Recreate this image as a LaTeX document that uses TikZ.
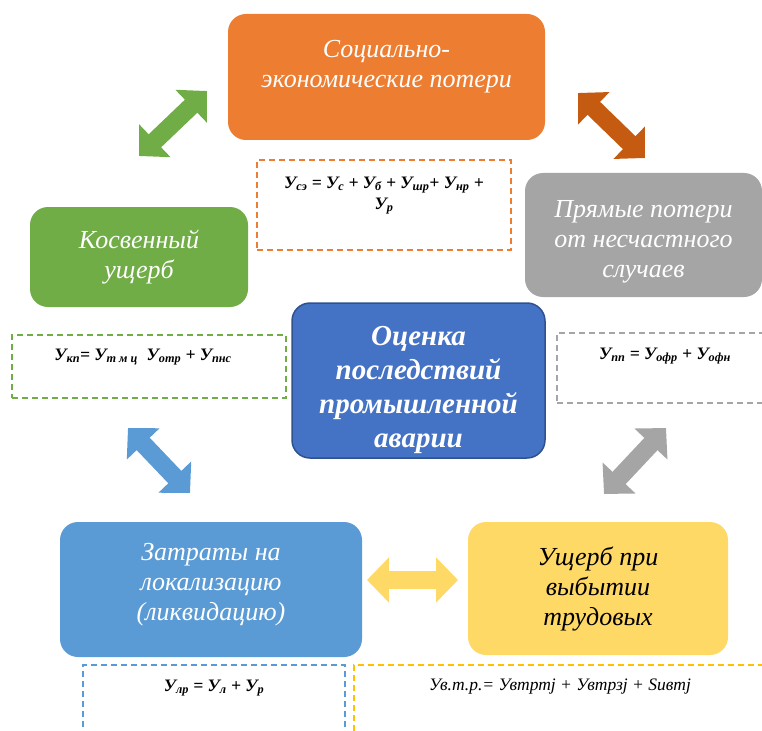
\documentclass[tikz,border=0pt]{standalone}
\usepackage{fontspec}
\setmainfont{Liberation Serif}
\usetikzlibrary{arrows.meta,positioning}

\definecolor{orng}{HTML}{ED7D31}
\definecolor{orngdk}{HTML}{C55A11}
\definecolor{gry}{HTML}{A5A5A5}
\definecolor{grn}{HTML}{70AD47}
\definecolor{blu}{HTML}{4472C4}
\definecolor{bludk}{HTML}{2F528F}
\definecolor{ltblu}{HTML}{5B9BD5}
\definecolor{ylw}{HTML}{FFD966}
\definecolor{ylwdk}{HTML}{FFC000}

\tikzset{
  box/.style={rounded corners=18pt, inner sep=4pt, align=center, text=white,
    font=\fontsize{26}{30}\selectfont\itshape},
  formbox/.style={draw, line width=1.3pt, dash pattern=on 6pt off 4pt},
  formula/.style={align=center, inner sep=0pt, font=\fontsize{17.5}{21}\selectfont\bfseries\itshape},
  bigarrow/.style={line width=18pt, {Triangle[width=44pt,length=22pt]}-{Triangle[width=44pt,length=22pt]}},
}

\begin{document}
\begin{tikzpicture}[x=1pt,y=-1pt]
\useasboundingbox (0,0) rectangle (762,730);

% boxes
\node[box, fill=orng, minimum width=317pt, minimum height=126pt] (soc) at (386.5,77) {Социально-\\экономические потери\\[-12pt]\strut};
\node[box, fill=gry, minimum width=237pt, minimum height=124pt] (prm) at (643.5,235) {\rule{0pt}{31pt}Прямые потери\\от несчастного\\случаев};
\node[box, fill=grn, minimum width=218pt, minimum height=100pt] (kos) at (139,257) {Косвенный\\ущерб};
\node[box, fill=blu, draw=bludk, line width=1.5pt, minimum width=253pt, minimum height=155pt,
  font=\fontsize{29}{34}\selectfont\bfseries\itshape] (ocn) at (418.5,380.5) {\rule{0pt}{38pt}Оценка\\последствий\\промышленной\\аварии};
\node[box, fill=ltblu, minimum width=302pt, minimum height=135pt] (zat) at (211,589.5) {Затраты на\\локализацию\\(ликвидацию)\\[-24pt]\strut};
\node[box, fill=ylw, text=black, minimum width=260pt, minimum height=133pt] (ush) at (598,588.5) {Ущерб при\\выбытии\\трудовых};

% dashed boxes with formulas
\node[formbox, draw=orng, minimum width=254pt, minimum height=90pt] (fSoc) at (384,205) {};
\node[formula, below=17pt of fSoc.north] {У\textsubscript{сэ} = У\textsubscript{с} + У\textsubscript{б} + У\textsubscript{шр}+ У\textsubscript{нр} +\\У\textsubscript{р}};

\node[formbox, draw=grn, minimum width=274pt, minimum height=63pt] (fKos) at (149,366.5) {};
\node[formula, below=14pt of fKos.north, xshift=-6pt] {У\textsubscript{кп}= У\textsubscript{т м ц}\enspace У\textsubscript{отр} + У\textsubscript{пнс}};

\node[formbox, draw=gry, minimum width=214pt, minimum height=70pt] (fPrm) at (664,368) {};
\node[formula, below=15pt of fPrm.north, xshift=1pt] {У\textsubscript{пп} = У\textsubscript{офр} + У\textsubscript{офн}};

\node[formbox, draw=ltblu, minimum width=262pt, minimum height=80pt] (fZat) at (214,705) {};
\node[formula, below=15pt of fZat.north] {У\textsubscript{лр} = У\textsubscript{л} + У\textsubscript{р}};

\node[formbox, draw=ylwdk, minimum width=420pt, minimum height=80pt] (fUsh) at (564,705) {};
\node[formula, below=14pt of fUsh.north, xshift=-4pt, font=\fontsize{17.5}{21}\selectfont\itshape] {Ув.т.р.= Увтртj + Увтрзj + Sивтj};

% arrows
\coordinate (g1) at (139,156); \coordinate (g2) at (207,91);
\coordinate (o1) at (578,93);  \coordinate (o2) at (645,158);
\coordinate (b1) at (128,428); \coordinate (b2) at (190,493);
\coordinate (s1) at (604,494); \coordinate (s2) at (666,428);
\coordinate (y1) at (367,580); \coordinate (y2) at (458,580);
\draw[bigarrow, grn] (g1) -- (g2);
\draw[bigarrow, orngdk] (o1) -- (o2);
\draw[bigarrow, ltblu] (b1) -- (b2);
\draw[bigarrow, gry] (s1) -- (s2);
\draw[bigarrow, ylw] (y1) -- (y2);

\end{tikzpicture}
\end{document}
